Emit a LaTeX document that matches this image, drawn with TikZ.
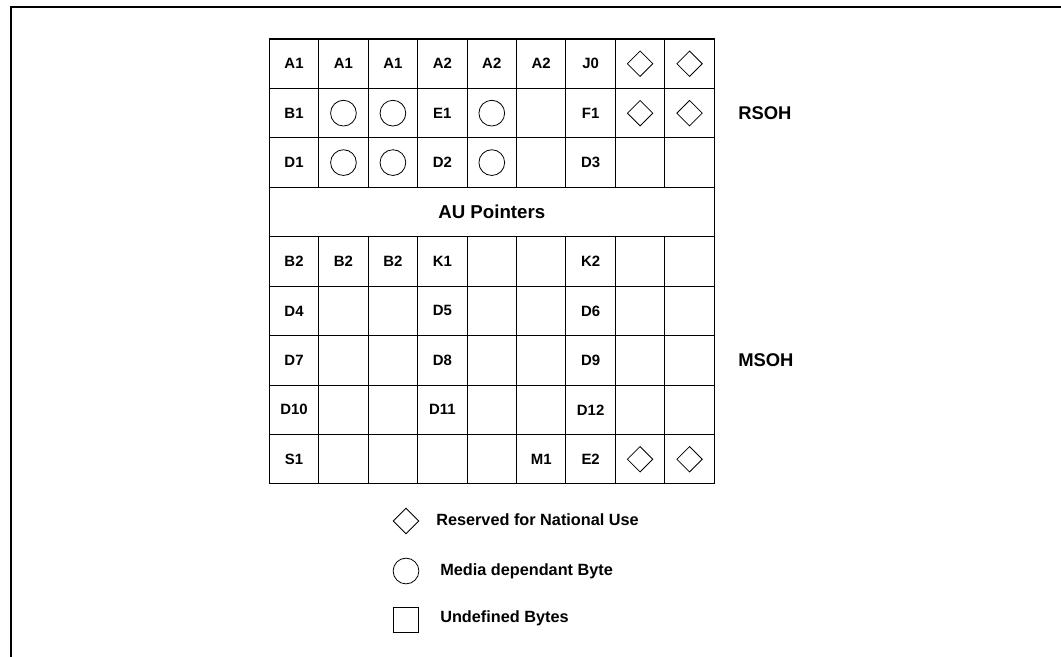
\documentclass[tikz,border=0pt]{standalone}
\usepackage{fontspec}
\setmainfont{Liberation Sans}
\usepackage{tikz}
\usetikzlibrary{shapes.geometric}

\newcommand{\cw}{49.44}
\tikzset{
  cell/.style={draw, line width=0.8pt, minimum size=37.08pt, inner sep=0pt,
    font=\fontsize{11.2}{13}\selectfont\bfseries},
  natl/.style={draw, diamond, aspect=1, minimum width=19.3pt, minimum height=19.3pt,
    inner sep=0pt, line width=0.6pt},
  media/.style={draw, circle, minimum size=19.3pt, inner sep=0pt, line width=0.6pt},
  undef/.style={draw, rectangle, minimum size=19.3pt, inner sep=0pt, line width=0.6pt},
  side/.style={anchor=west, inner sep=0pt, font=\fontsize{13.8}{16}\selectfont\bfseries},
  legend/.style={anchor=west, inner sep=0pt, font=\fontsize{12.2}{14}\selectfont\bfseries}
}

\begin{document}
\begin{tikzpicture}[x=0.75pt, y=-0.75pt]
  \useasboundingbox (0,0) rectangle (1061,657);
  % frame
  \draw[line width=1.8pt] (1061,7) -- (11,7) -- (11,657);

  % overhead bytes
  \foreach \r/\labels in {
      1/{A1,A1,A1,A2,A2,A2,J0,{},{}},
      2/{B1,{},{},E1,{},{},F1,{},{}},
      3/{D1,{},{},D2,{},{},D3,{},{}},
      5/{B2,B2,B2,K1,{},{},K2,{},{}},
      6/{D4,{},{},D5,{},{},D6,{},{}},
      7/{D7,{},{},D8,{},{},D9,{},{}},
      8/{D10,{},{},D11,{},{},D12,{},{}},
      9/{S1,{},{},{},{},M1,E2,{},{}}}
    \foreach \t [count=\c] in \labels
      \node[cell] (c-\r-\c) at ({269.3+\cw*(\c-0.5)},{39+\cw*(\r-0.5)}) {\t};

  \node[cell, minimum width=333.7pt, font=\fontsize{14}{16}\selectfont\bfseries]
    (au) at ({269.3+\cw*4.5},{39+\cw*3.5}) {AU Pointers};

  % reserved and media dependant bytes
  \foreach \p in {1-8,1-9,2-8,2-9,9-8,9-9}
    \node[natl] at (c-\p) {};
  \foreach \p in {2-2,2-3,2-5,3-2,3-3,3-5}
    \node[media] at (c-\p) {};

  \node[side] (rsoh) at (738,113.2) {RSOH};
  \node[side] (msoh) at (738,360.4) {MSOH};

  % legend
  \node[natl] (k-natl) at (406,521) {};
  \node[legend] (t-natl) at (436,520) {Reserved for National Use};
  \node[media] (k-media) at (406,571) {};
  \node[legend] (t-media) at (440,571) {Media dependant Byte};
  \node[undef] (k-undef) at (406,620) {};
  \node[legend] (t-undef) at (440,618) {Undefined Bytes};
\end{tikzpicture}
\end{document}
